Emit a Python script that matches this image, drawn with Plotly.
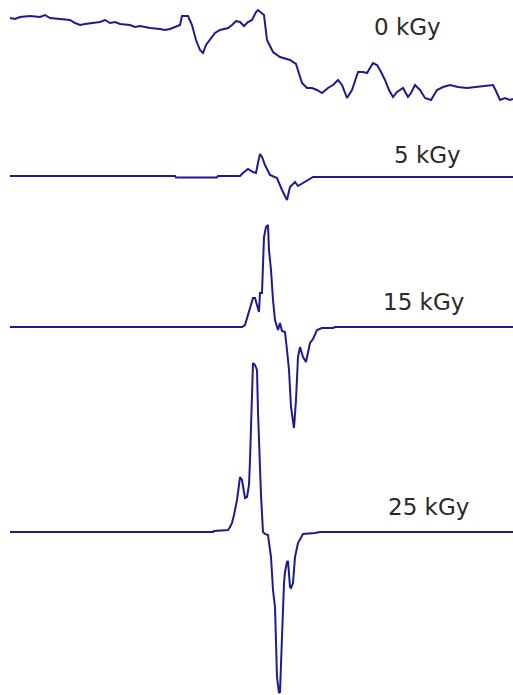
import plotly.graph_objects as go

# EPR first-derivative spectra of irradiated samples, stacked by dose.
doses = ["0 kGy", "5 kGy", "15 kGy", "25 kGy"]

# Field position (arbitrary units across the sweep) and signal amplitude
# relative to each spectrum's baseline (positive = up).
field_0 = [10, 15, 20, 30, 40, 45, 50, 60, 70, 75, 80, 85, 95, 100, 105, 110, 115, 120, 130, 135,
           140, 150, 160, 165, 170, 175, 180, 182, 188, 192, 196, 200, 203, 206, 210, 215, 220, 228,
           232, 236, 240, 244, 248, 252, 256, 258, 264, 267, 273, 280, 290, 296, 302, 307, 312, 317,
           322, 328, 333, 338, 342, 347, 352, 358, 363, 367, 373, 377, 380, 385, 389, 393, 397, 403,
           408, 411, 415, 420, 425, 431, 437, 443, 450, 458, 467, 475, 483, 493, 496, 500, 505, 510, 513]
amp_0 = [42, 41, 43, 44, 43, 45, 42, 41, 40, 37, 35, 36, 37, 38, 40, 37, 38, 36, 35, 33,
         34, 32, 31, 30, 31, 33, 35, 44, 44, 35, 20, 10, 7, 15, 20, 27, 30, 32,
         35, 39, 38, 34, 38, 40, 48, 50, 45, 20, 8, 3, 0, -4, -23, -28, -28, -30,
         -33, -28, -25, -20, -25, -38, -30, -12, -12, -13, -3, -5, -10, -20, -30, -37, -32, -28,
         -37, -33, -25, -30, -38, -40, -30, -27, -25, -27, -28, -27, -26, -25, -31, -40, -38, -40, -39]

field_5 = [10, 175, 176, 217, 218, 240, 243, 248, 253, 256, 258, 260, 262, 265, 270, 277, 282,
           287, 290, 295, 298, 305, 310, 313, 513]
amp_5 = [1, 1, -0.5, -0.5, 1, 1, 4, 8, 5, 4, 14, 23, 20, 12, 2, -1, -13,
         -23, -10, -5, -9, -5, -2, 0, 0]

field_15 = [10, 242, 245, 247, 249, 251, 253, 255, 257, 259, 260, 262, 263, 264, 266, 268, 269,
            271, 273, 275, 278, 280, 282, 285, 287, 289, 291, 294, 296, 298, 300, 303, 306, 310,
            313, 317, 322, 333, 335, 513]
amp_15 = [0, 0, 2, 9, 17, 23, 29, 29, 23, 15, 34, 34, 62, 90, 100, 102, 77,
          57, 27, 7, -3, 4, -4, -5, -23, -43, -80, -101, -73, -30, -20, -30, -35, -16,
          -12, -3, -1, -1, 0, 0]

field_25 = [10, 213, 214, 228, 230, 232, 234, 237, 239, 240, 242, 245, 247, 249, 250, 251, 252,
            253, 255, 257, 258, 259, 261, 263, 265, 268, 270, 271, 273, 275, 277, 279, 280, 281,
            282, 284, 285, 287, 288, 290, 291, 293, 295, 298, 303, 315, 320, 513]
amp_25 = [0, 0, 1, 2, 5, 9, 17, 32, 47, 55, 52, 34, 35, 47, 72, 105, 145,
          169, 167, 162, 120, 85, 37, 0, -2, -3, -15, -25, -58, -75, -145, -161, -160, -140,
          -105, -51, -40, -30, -29, -55, -56, -51, -25, -11, -2, -1, 0, 0]

fields = [field_0, field_5, field_15, field_25]
amps = [amp_0, amp_5, amp_15, amp_25]

# Baseline of each stacked spectrum and where its dose label sits
baselines = [60, 177, 327, 532]
label_x = [407, 427, 423, 428]
label_y = [27, 155, 302, 507]

line_color = "#1c1c8e"

fig = go.Figure()
for f, a, base in zip(fields, amps, baselines):
    fig.add_trace(go.Scatter(
        x=f, y=[v - base for v in a], mode="lines",
        line=dict(color=line_color, width=2), hoverinfo="skip", showlegend=False,
    ))

for name, lx, ly in zip(doses, label_x, label_y):
    fig.add_annotation(x=lx, y=-ly, text=name, showarrow=False,
                       font=dict(family="DejaVu Sans, Verdana, sans-serif", size=23, color="#2a2a2a"))

fig.update_layout(
    width=513, height=695,
    margin=dict(l=0, r=0, t=0, b=0),
    paper_bgcolor="white", plot_bgcolor="white",
    xaxis=dict(range=[0, 513], visible=False, fixedrange=True),
    yaxis=dict(range=[-695, 0], visible=False, fixedrange=True),
)

fig.write_html("out.html")
